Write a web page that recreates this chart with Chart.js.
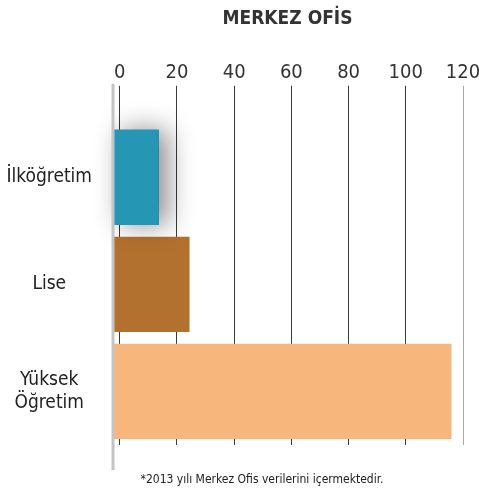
<!DOCTYPE html>
<html>
<head>
<meta charset="utf-8">
<script src="https://cdn.jsdelivr.net/npm/chart.js@4/dist/chart.umd.min.js"></script>
<style>
  html, body { margin: 0; padding: 0; background: #fff; }
  #wrap { position: relative; width: 479px; height: 497px; }
  #note {
    position: absolute; left: 0; width: 524px; top: 472px; margin: 0;
    text-align: center; font: 12px "DejaVu Sans Condensed", sans-serif;
    color: #222;
  }
</style>
</head>
<body>
<div id="wrap">
  <canvas id="chart" width="479" height="497"></canvas>
  <p id="note">*2013 yılı Merkez Ofis verilerini içermektedir.</p>
</div>
<script>
// data
const categories = ["İlköğretim", "Lise", ["Yüksek", "Öğretim"]];
const values = [13.7, 24.4, 116];
const barColors = ["#2596b3", "#b3712f", "#f6b67c"];
const tickValues = [0, 20, 40, 60, 80, 100, 120];
const axisMin = -2.7;

const font = "'DejaVu Sans Condensed', sans-serif";

// gray left rule that runs past the plot, plus the shadow under the first bar
const extras = {
  id: "extras",
  afterDatasetsDraw(chart) {
    const ctx = chart.ctx;
    const bar = chart.getDatasetMeta(0).data[0];
    const p = bar.getProps(["x", "y", "base", "height"], true);
    ctx.save();
    ctx.shadowColor = "rgba(0,0,0,0.45)";
    ctx.shadowBlur = 26;
    ctx.shadowOffsetX = 9;
    ctx.fillStyle = barColors[0];
    ctx.fillRect(p.base, p.y - p.height / 2, p.x - p.base, p.height);
    ctx.restore();

    const x = chart.scales.x.getPixelForValue(axisMin);
    const area = chart.chartArea;
    ctx.save();
    ctx.strokeStyle = "#c4c4c4";
    ctx.lineWidth = 3;
    ctx.beginPath();
    ctx.moveTo(x + 1, area.top - 40);
    ctx.lineTo(x + 1, area.bottom + 25);
    ctx.stroke();
    ctx.restore();
  }
};

new Chart(document.getElementById("chart"), {
  type: "bar",
  data: {
    labels: categories,
    datasets: [{
      data: values,
      backgroundColor: barColors,
      base: axisMin,
      barPercentage: 0.89,
      categoryPercentage: 1
    }]
  },
  plugins: [extras],
  options: {
    indexAxis: "y",
    responsive: false,
    animation: false,
    layout: { padding: { top: 3, right: 0, bottom: 52, left: 0 } },
    plugins: {
      legend: { display: false },
      tooltip: { enabled: false },
      title: {
        display: true,
        text: "MERKEZ OFİS",
        fullSize: false,
        color: "#333",
        font: { family: font, size: 19, weight: "bold" },
        padding: { top: 5, bottom: 29 }
      }
    },
    scales: {
      x: {
        position: "top",
        min: axisMin,
        max: 120,
        afterBuildTicks(scale) {
          scale.ticks = tickValues.map((v) => ({ value: v }));
        },
        afterFit(scale) { scale.paddingRight = 16; },
        border: { display: false },
        grid: {
          color: (c) => (c.tick && c.tick.value === 120 ? "#aaaaaa" : "#3a3a3a"),
          lineWidth: 1,
          tickLength: 38
        },
        ticks: {
          color: "#333",
          padding: 1,
          font: { family: font, size: 20 }
        }
      },
      y: {
        afterFit(scale) { scale.width = 112; },
        border: { display: false },
        grid: { display: false },
        ticks: {
          crossAlign: "center",
          padding: 12,
          color: "#222",
          font: { family: font, size: 19 }
        }
      }
    }
  }
});
</script>
</body>
</html>
